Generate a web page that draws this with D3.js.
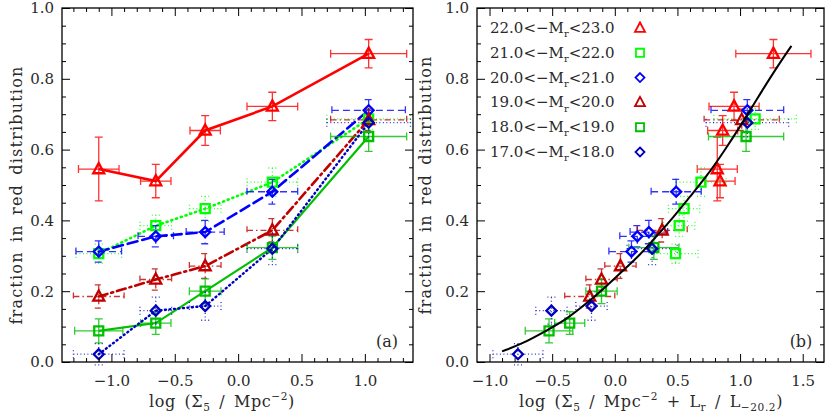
<!DOCTYPE html>
<html>
<head>
<meta charset="utf-8">
<script src="https://cdn.jsdelivr.net/npm/d3@7"></script>
<style>
body { margin: 0; background: #fff; }
text { font-family: "DejaVu Serif", serif; fill: #2a2a2a; }
</style>
</head>
<body>
<script>
// magnitude bins (legend)
var magLow  = [22.0, 21.0, 20.0, 19.0, 18.0, 17.0];
var magHigh = [23.0, 22.0, 21.0, 20.0, 19.0, 18.0];

// panel (a): log Sigma5 bins, shared by all series
var logSigma = [-1.1, -0.65, -0.26, 0.27, 1.03];

// red fraction per bin
var frac22 = [0.545, 0.511, 0.654, 0.722, 0.871];
var frac21 = [0.306, 0.385, 0.433, 0.508, 0.687];
var frac20 = [0.312, 0.355, 0.367, 0.481, 0.711];
var frac19 = [0.185, 0.233, 0.271, 0.372, 0.684];
var frac18 = [0.088, 0.110, 0.200, 0.323, 0.637];
var frac17 = [0.022, 0.145, 0.158, 0.320, 0.676];

// panel (b): log(Sigma5 + Lr/L-20.2)
var comb22 = [0.818, 0.840, 0.861, 0.952, 1.266];
var comb21 = [0.485, 0.514, 0.553, 0.688, 1.120];
var comb20 = [0.133, 0.180, 0.272, 0.490, 1.058];
var comb19 = [-0.200, -0.106, 0.045, 0.378, 1.013];
var comb18 = [-0.525, -0.360, -0.106, 0.312, 1.048];
var comb17 = [-0.773, -0.506, -0.186, 0.298, 1.058];

// errors
var xErr22 = [0.16, 0.12, 0.12, 0.20, 0.30];
var xErr21 = [0.18, 0.125, 0.125, 0.20, 0.33];
var xErr20 = [0.18, 0.14, 0.15, 0.20, 0.29];
var xErr19 = [0.20, 0.125, 0.125, 0.20, 0.30];
var xErr18 = [0.19, 0.12, 0.125, 0.20, 0.30];
var xErr17 = [0.20, 0.125, 0.125, 0.20, 0.33];

var yErr22 = [0.09, 0.047, 0.042, 0.04, 0.04];
var yErr21 = [0.027, 0.03, 0.035, 0.04, 0.03];
var yErr20 = [0.03, 0.03, 0.033, 0.035, 0.03];
var yErr19 = [0.033, 0.03, 0.035, 0.033, 0.03];
var yErr18 = [0.034, 0.032, 0.035, 0.033, 0.042];
var yErr17 = [0.03, 0.038, 0.04, 0.045, 0.04];

// fitted curve in panel (b)
var fitX = [-0.9, -0.73, -0.56, -0.39, -0.2, -0.07, 0.07, 0.2, 0.33, 0.47, 0.6, 0.73, 0.87, 1.0, 1.13, 1.27, 1.41];
var fitY = [0.03, 0.053, 0.086, 0.119, 0.173, 0.213, 0.26, 0.302, 0.354, 0.41, 0.467, 0.523, 0.594, 0.665, 0.74, 0.82, 0.893];

var yTicks = [0, 0.2, 0.4, 0.6, 0.8, 1.0];
var xTicksA = [-1.0, -0.5, 0.0, 0.5, 1.0];
var xTicksB = [-1.0, -0.5, 0.0, 0.5, 1.0, 1.5];

// styles
var colors  = ["#ff0000", "#00ff00", "#0000ff", "#c00000", "#00c000", "#0000c0"];
var symbols = ["tri", "sq", "dia", "tri", "sq", "dia"];
var lineDash = [null, "1,4", "10,5", "9,4,2,4", null, "1,3.5"];
var errDash  = [null, "1,2.5", "7,4", "6,3,1.5,3", null, "1,2.5"];
var lineW    = [2.6, 2.6, 2.6, 2.6, 2.2, 2.4];

var fracs = [frac22, frac21, frac20, frac19, frac18, frac17];
var combs = [comb22, comb21, comb20, comb19, comb18, comb17];
var xErrs = [xErr22, xErr21, xErr20, xErr19, xErr18, xErr17];
var yErrs = [yErr22, yErr21, yErr20, yErr19, yErr18, yErr17];

var series = magLow.map(function(m, i) {
    return {
        i: i,
        pts: fracs[i].map(function(f, j) {
            return {a: logSigma[j], b: combs[i][j], y: f, xe: xErrs[i][j], ye: yErrs[i][j]};
        })
    };
});

var svg = d3.select("body").append("svg")
    .attr("width", 830)
    .attr("height", 420)
    .style("display", "block");

var y = d3.scaleLinear().domain([0, 1]).range([362, 8]);
var xA = d3.scaleLinear().domain([-1.39, 1.38]).range([62, 413]);
var xB = d3.scaleLinear().domain([-1.1, 1.67]).range([477, 824]);

var fmt = d3.format(".1f");

function markerPath(type, s) {
    if (type == "tri") {
        return "M0," + (-s * 0.55) + "L" + (s * 0.5) + "," + (s * 0.38) + "L" + (-s * 0.5) + "," + (s * 0.38) + "Z";
    }
    if (type == "sq") {
        var h = s * 0.45;
        return "M" + (-h) + "," + (-h) + "H" + h + "V" + h + "H" + (-h) + "Z";
    }
    var d = s * 0.5;
    return "M0," + (-d) + "L" + d + ",0L0," + d + "L" + (-d) + ",0Z";
}

function rich(sel, parts, size) {
    var cur = 0;
    parts.forEach(function(p) {
        var target = p[1] > 0 ? -size * 0.42 : (p[1] < 0 ? size * 0.28 : 0);
        sel.append("tspan")
            .attr("dy", target - cur)
            .style("font-size", (p[1] ? size * 0.66 : size) + "px")
            .text(p[0]);
        cur = target;
    });
}

function drawAxes(x, xTicks) {
    var g = svg.append("g");
    var x0 = x.range()[0], x1 = x.range()[1];
    var dom = x.domain();
    var xMinor = d3.range(-20, 21).map(function(k) { return k / 10; })
        .filter(function(v) { return v > dom[0] && v < dom[1] && xTicks.indexOf(v) < 0; });
    var yMinor = d3.range(1, 20).filter(function(k) { return k % 4 != 0; })
        .map(function(k) { return k / 20; });

    function clean(sel) { sel.select(".domain").remove(); sel.selectAll("line").attr("stroke", "#000").attr("stroke-width", 1); }

    g.append("g").attr("transform", "translate(0,362)")
        .call(d3.axisBottom(x).tickValues(xTicks).tickSize(-8).tickPadding(13).tickFormat(fmt))
        .call(clean)
        .selectAll("text").style("font-size", "15px").attr("font-family", null);
    g.append("g").attr("transform", "translate(0,362)")
        .call(d3.axisBottom(x).tickValues(xMinor).tickSize(-4).tickFormat(""))
        .call(clean);
    g.append("g").attr("transform", "translate(0,8)")
        .call(d3.axisTop(x).tickValues(xTicks).tickSize(-8).tickFormat(""))
        .call(clean);
    g.append("g").attr("transform", "translate(0,8)")
        .call(d3.axisTop(x).tickValues(xMinor).tickSize(-4).tickFormat(""))
        .call(clean);

    g.append("g").attr("transform", "translate(" + x0 + ",0)")
        .call(d3.axisLeft(y).tickValues(yTicks).tickSize(-8).tickPadding(8).tickFormat(fmt))
        .call(clean)
        .selectAll("text").style("font-size", "15px").attr("font-family", null);
    g.append("g").attr("transform", "translate(" + x0 + ",0)")
        .call(d3.axisLeft(y).tickValues(yMinor).tickSize(-4).tickFormat(""))
        .call(clean);
    g.append("g").attr("transform", "translate(" + x1 + ",0)")
        .call(d3.axisRight(y).tickValues(yTicks).tickSize(-8).tickFormat(""))
        .call(clean);
    g.append("g").attr("transform", "translate(" + x1 + ",0)")
        .call(d3.axisRight(y).tickValues(yMinor).tickSize(-4).tickFormat(""))
        .call(clean);

    g.append("rect")
        .attr("x", x0).attr("y", 8)
        .attr("width", x1 - x0).attr("height", 354)
        .attr("fill", "none").attr("stroke", "#000").attr("stroke-width", 1.3);
}

function drawPoints(x, key, withLines) {
    var g = svg.append("g");
    series.forEach(function(s) {
        var c = colors[s.i];
        var eg = g.append("g")
            .attr("stroke", c).attr("stroke-width", 1.3).attr("fill", "none")
            .attr("stroke-dasharray", errDash[s.i]).attr("opacity", 0.8);
        s.pts.forEach(function(p) {
            var px = x(p[key]), py = y(p.y);
            var xl = x(p[key] - p.xe), xr = x(p[key] + p.xe);
            var yt = y(p.y + p.ye), yb = y(p.y - p.ye);
            eg.append("path").attr("d",
                "M" + xl + "," + py + "H" + xr +
                "M" + xl + "," + (py - 4) + "V" + (py + 4) +
                "M" + xr + "," + (py - 4) + "V" + (py + 4) +
                "M" + px + "," + yt + "V" + yb +
                "M" + (px - 4) + "," + yt + "H" + (px + 4) +
                "M" + (px - 4) + "," + yb + "H" + (px + 4));
        });
        if (withLines) {
            g.append("path")
                .datum(s.pts)
                .attr("d", d3.line().x(function(p) { return x(p[key]); }).y(function(p) { return y(p.y); }))
                .attr("fill", "none").attr("stroke", c)
                .attr("stroke-width", lineW[s.i])
                .attr("stroke-linecap", lineDash[s.i] ? "round" : "butt")
                .attr("stroke-dasharray", lineDash[s.i]);
        }
    });
    series.forEach(function(s) {
        g.selectAll(null).data(s.pts).enter().append("path")
            .attr("transform", function(p) { return "translate(" + x(p[key]) + "," + y(p.y) + ")"; })
            .attr("d", markerPath(symbols[s.i], symbols[s.i] == "tri" ? 11 : 10))
            .attr("fill", "none").attr("stroke", colors[s.i]).attr("stroke-width", 2.3);
    });
}

// panel (a)
drawPoints(xA, "a", true);
drawAxes(xA, xTicksA);

// panel (b)
drawPoints(xB, "b", false);
svg.append("path")
    .datum(fitX.map(function(v, i) { return [v, fitY[i]]; }))
    .attr("d", d3.line().x(function(d) { return xB(d[0]); }).y(function(d) { return y(d[1]); }).curve(d3.curveBasis))
    .attr("fill", "none").attr("stroke", "#000").attr("stroke-width", 2);
drawAxes(xB, xTicksB);

// legend
var leg = svg.append("g");
magLow.forEach(function(m, i) {
    var ly = 28 + i * 24.8;
    var t = leg.append("text").attr("x", 490).attr("y", ly + 5);
    rich(t, [[fmt(m) + "<\u2212M", 0], ["r", -1], ["<" + fmt(magHigh[i]), 0]], 15);
    leg.append("path")
        .attr("transform", "translate(640," + ly + ")")
        .attr("d", markerPath(symbols[i], symbols[i] == "tri" ? 10 : 9))
        .attr("fill", "none").attr("stroke", colors[i]).attr("stroke-width", 1.8);
});

// panel tags
svg.append("text").attr("x", 387).attr("y", 347).attr("text-anchor", "middle").style("font-size", "16px").text("(a)");
svg.append("text").attr("x", 801).attr("y", 347).attr("text-anchor", "middle").style("font-size", "16px").text("(b)");

// axis titles
var tA = svg.append("text").attr("x", 222).attr("y", 407).attr("text-anchor", "middle")
    .style("font-size", "16px").style("word-spacing", "3px").style("letter-spacing", "0.6px");
rich(tA, [["log (\u03A3", 0], ["5", -1], [" / Mpc", 0], ["\u22122", 1], [")", 0]], 16);

var tB = svg.append("text").attr("x", 651).attr("y", 407).attr("text-anchor", "middle")
    .style("font-size", "16px").style("word-spacing", "3px").style("letter-spacing", "0.6px");
rich(tB, [["log (\u03A3", 0], ["5", -1], [" / Mpc", 0], ["\u22122", 1], [" + L", 0], ["r", -1], [" / L", 0], ["\u221220.2", -1], [")", 0]], 16);

[[17, 195], [426, 185]].forEach(function(p) {
    svg.append("text")
        .attr("transform", "translate(" + (p[0] + 5) + "," + p[1] + ") rotate(-90)")
        .attr("text-anchor", "middle")
        .style("font-size", "16px").style("letter-spacing", "1.2px").style("word-spacing", "3px")
        .text("fraction in red distribution");
});
</script>
</body>
</html>
